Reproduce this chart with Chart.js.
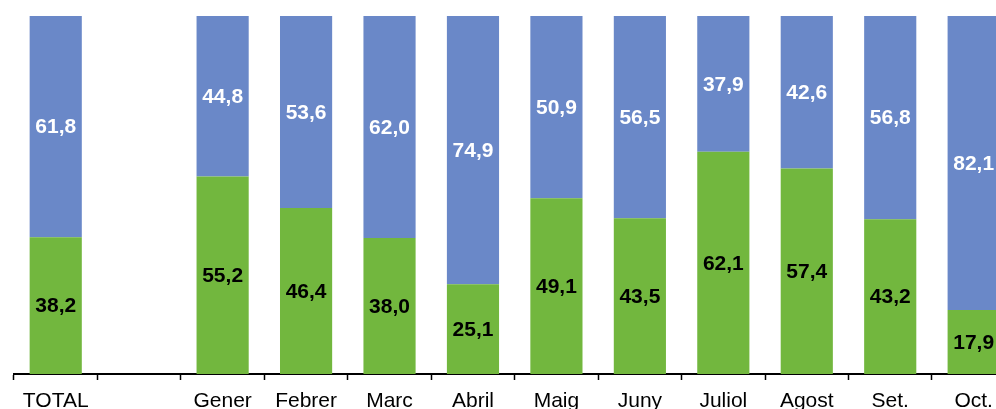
<!DOCTYPE html>
<html>
<head>
<meta charset="utf-8">
<script src="https://cdn.jsdelivr.net/npm/chart.js@4/dist/chart.umd.min.js"></script>
<style>
    html, body { margin: 0; padding: 0; background: #fff; }
    #wrap { width: 996px; height: 409px; overflow: hidden; position: relative; }
    #box { width: 1030px; height: 409px; position: absolute; left: 0; top: 0; }
</style>
</head>
<body>
<div id="wrap"><div id="box"><canvas id="chart"></canvas></div></div>
<script>
const categories = ['TOTAL', '', 'Gener', 'Febrer', 'Marc', 'Abril', 'Maig', 'Juny', 'Juliol', 'Agost', 'Set.', 'Oct.']
const greenValues = [38.2, null, 55.2, 46.4, 38.0, 25.1, 49.1, 43.5, 62.1, 57.4, 43.2, 17.9]
const blueValues = [61.8, null, 44.8, 53.6, 62.0, 74.9, 50.9, 56.5, 37.9, 42.6, 56.8, 82.1]

const FONT = "'Liberation Sans', Arial, sans-serif"

// etiquetes centrades dins de cada tram
const labelPlugin = {
    id: 'segmentLabels',
    afterDatasetsDraw(chart) {
        const ctx = chart.ctx
        ctx.save()
        ctx.font = `bold 21px ${FONT}`
        ctx.textAlign = 'center'
        ctx.textBaseline = 'middle'
        chart.data.datasets.forEach((ds, i) => {
            const meta = chart.getDatasetMeta(i)
            meta.data.forEach((bar, j) => {
                const v = ds.data[j]
                if (v === null || v === undefined) return
                const { x, y } = bar.getCenterPoint()
                ctx.fillStyle = ds.labelColor
                ctx.fillText(v.toFixed(1).replace('.', ','), x, y + 1)
            })
        })
        ctx.restore()
    }
}

new Chart(document.querySelector('#chart'), {
    type: 'bar',
    data: {
        labels: categories,
        datasets: [
            {
                data: greenValues,
                backgroundColor: '#72B73E',
                labelColor: '#000000',
                barPercentage: 0.625,
                categoryPercentage: 1
            },
            {
                data: blueValues,
                backgroundColor: '#6A88C8',
                labelColor: '#ffffff',
                barPercentage: 0.625,
                categoryPercentage: 1
            }
        ]
    },
    options: {
        responsive: true,
        maintainAspectRatio: false,
        animation: false,
        layout: {
            padding: { left: 14, right: 14.6, top: 16, bottom: 0 }
        },
        plugins: {
            legend: { display: false },
            tooltip: { enabled: false }
        },
        scales: {
            x: {
                stacked: true,
                offset: true,
                grid: {
                    offset: true,
                    drawOnChartArea: false,
                    drawTicks: true,
                    tickLength: 6,
                    tickWidth: 1.5,
                    tickColor: '#000'
                },
                border: { display: true, color: '#000', width: 2 },
                ticks: {
                    color: '#000',
                    font: { family: FONT, size: 21 },
                    padding: 9,
                    maxRotation: 0,
                    autoSkip: false
                },
                afterFit: scale => { scale.height = 35 }
            },
            y: {
                stacked: true,
                display: false,
                min: 0,
                max: 100
            }
        }
    },
    plugins: [labelPlugin]
})
</script>
</body>
</html>
